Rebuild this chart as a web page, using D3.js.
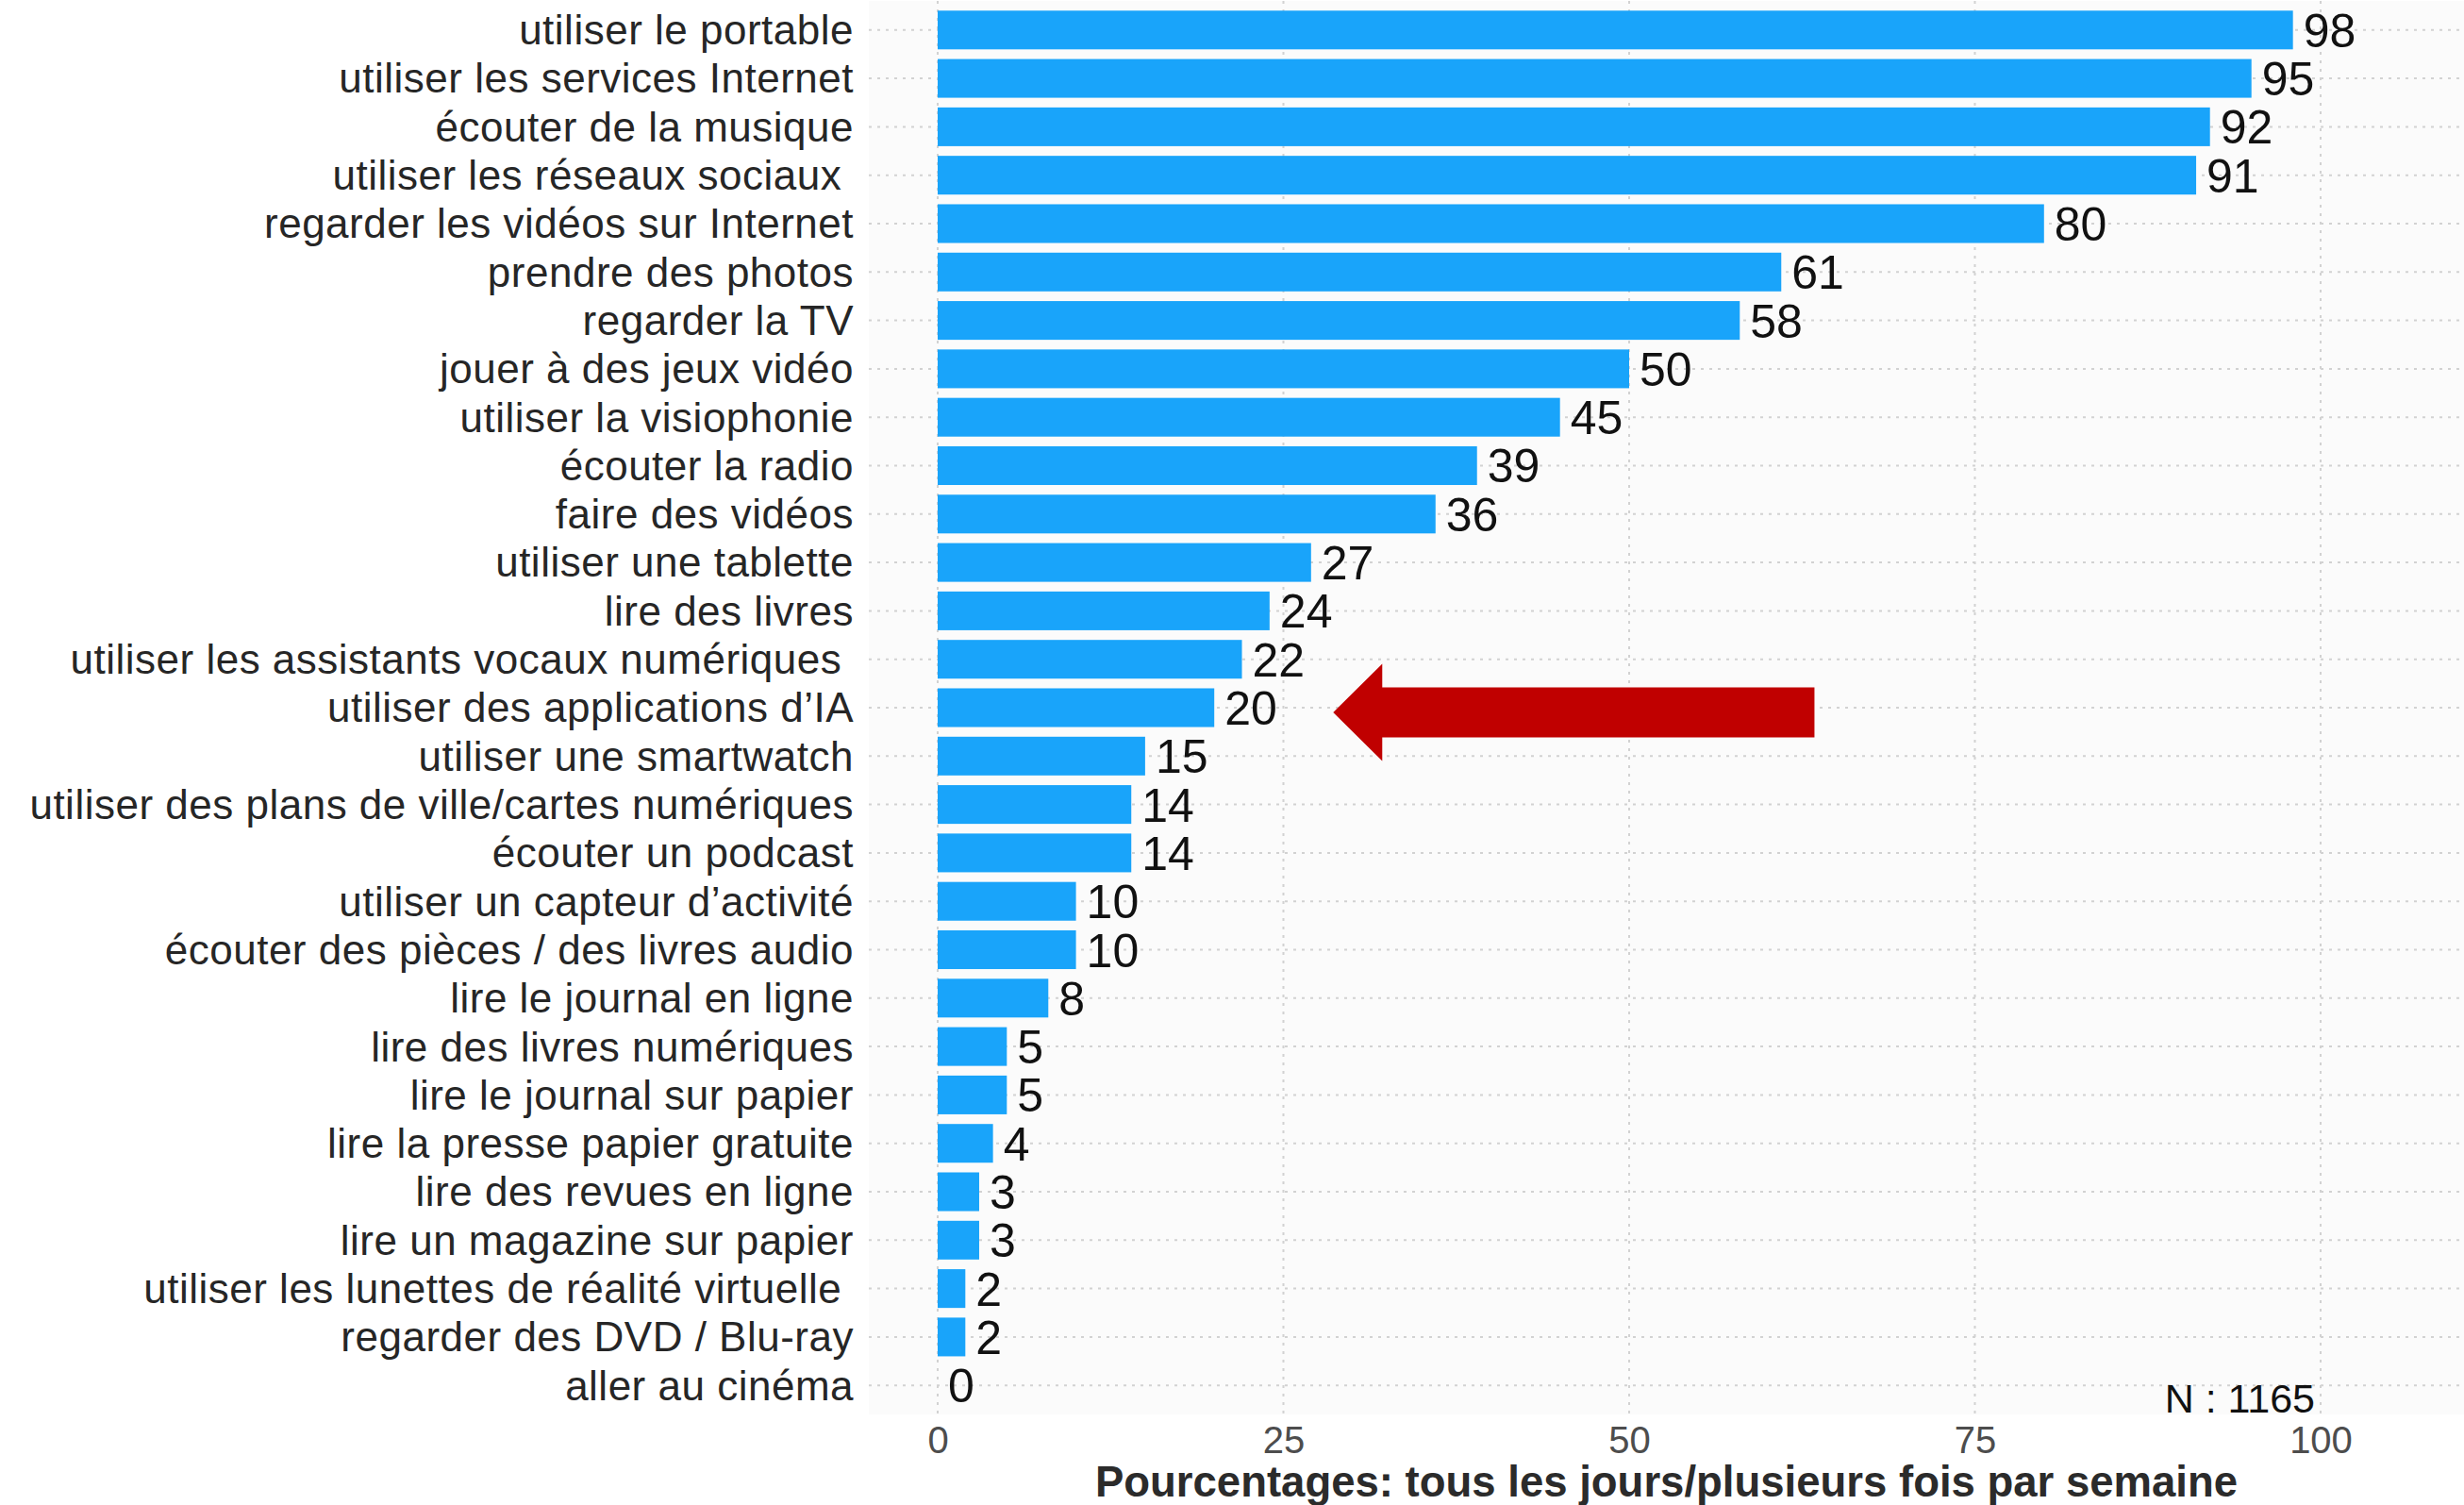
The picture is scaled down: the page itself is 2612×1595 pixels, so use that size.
<!DOCTYPE html>
<html lang="fr">
<head>
<meta charset="utf-8">
<title>Usages médias</title>
<script src="https://cdn.jsdelivr.net/npm/d3@7"></script>
<style>
  html, body { margin: 0; padding: 0; background: #ffffff; }
  svg { display: block; font-family: "Liberation Sans", Arial, Helvetica, sans-serif; }
</style>
</head>
<body>
<svg id="chart" width="2612" height="1595"></svg>
<script>
// Activities, top to bottom
const categories = [
  "utiliser le portable",
  "utiliser les services Internet",
  "écouter de la musique",
  "utiliser les réseaux sociaux ",
  "regarder les vidéos sur Internet",
  "prendre des photos",
  "regarder la TV",
  "jouer à des jeux vidéo",
  "utiliser la visiophonie",
  "écouter la radio",
  "faire des vidéos",
  "utiliser une tablette",
  "lire des livres",
  "utiliser les assistants vocaux numériques ",
  "utiliser des applications d’IA",
  "utiliser une smartwatch",
  "utiliser des plans de ville/cartes numériques",
  "écouter un podcast",
  "utiliser un capteur d’activité",
  "écouter des pièces / des livres audio",
  "lire le journal en ligne",
  "lire des livres numériques",
  "lire le journal sur papier",
  "lire la presse papier gratuite",
  "lire des revues en ligne",
  "lire un magazine sur papier",
  "utiliser les lunettes de réalité virtuelle ",
  "regarder des DVD / Blu-ray",
  "aller au cinéma"
];

// Share (%) doing it every day / several times a week
const values = [98, 95, 92, 91, 80, 61, 58, 50, 45, 39, 36, 27, 24, 22, 20, 15, 14, 14, 10, 10, 8, 5, 5, 4, 3, 3, 2, 2, 0];

const xTicks = [0, 25, 50, 75, 100];
const xTitle = "Pourcentages: tous les jours/plusieurs fois par semaine";
const sampleNote = "N : 1165";

// Highlighted activity and the arrow span (in % units)
const highlighted = "utiliser des applications d’IA";
const arrowSpan = [63.4, 28.6];

const data = categories.map((c, i) => ({ category: c, value: values[i] }));

const W = 2612, H = 1595;
const panel = { left: 921, right: 2612, top: 1, bottom: 1499 };

const svg = d3.select("#chart");

const x = d3.scaleLinear().domain([0, 100]).range([994, 2460]);
const y = d3.scaleBand()
  .domain(categories)
  .range([panel.top, panel.bottom])
  .paddingInner(0.2)
  .paddingOuter(0.2);

// Panel background
svg.append("rect")
  .attr("x", panel.left).attr("y", panel.top)
  .attr("width", panel.right - panel.left)
  .attr("height", panel.bottom - panel.top)
  .attr("fill", "#fbfbfb");

// Dotted grid
const grid = svg.append("g")
  .attr("stroke", "#d2d2d2")
  .attr("stroke-width", 2)
  .attr("stroke-dasharray", "3,6")
  .attr("fill", "none");

grid.selectAll("line.h")
  .data(categories)
  .join("line")
  .attr("class", "h")
  .attr("x1", panel.left).attr("x2", panel.right)
  .attr("y1", d => y(d) + y.bandwidth() / 2)
  .attr("y2", d => y(d) + y.bandwidth() / 2);

grid.selectAll("line.v")
  .data(xTicks)
  .join("line")
  .attr("class", "v")
  .attr("x1", d => x(d)).attr("x2", d => x(d))
  .attr("y1", panel.top).attr("y2", panel.bottom);

// Bars
svg.append("g")
  .selectAll("rect")
  .data(data)
  .join("rect")
  .attr("x", x(0))
  .attr("y", d => y(d.category))
  .attr("width", d => x(d.value) - x(0))
  .attr("height", y.bandwidth())
  .attr("fill", "#19a4fa");

// Value labels
svg.append("g")
  .selectAll("text")
  .data(data)
  .join("text")
  .attr("x", d => x(d.value) + 11)
  .attr("y", d => y(d.category) + y.bandwidth() / 2)
  .attr("dy", "0.36em")
  .attr("font-size", 50)
  .attr("fill", "#111111")
  .text(d => d3.format("d")(d.value));

// Category labels
svg.append("g")
  .selectAll("text")
  .data(categories)
  .join("text")
  .attr("x", panel.left - 16)
  .attr("y", d => y(d) + y.bandwidth() / 2)
  .attr("dy", "0.35em")
  .attr("text-anchor", "end")
  .attr("xml:space", "preserve")
  .style("white-space", "pre")
  .attr("font-size", 44)
  .attr("letter-spacing", 0.5)
  .attr("fill", "#262626")
  .text(d => d);

// X axis
const xAxis = svg.append("g")
  .attr("transform", `translate(0,${panel.bottom})`)
  .call(d3.axisBottom(x).tickValues(xTicks).tickSize(0).tickPadding(13));
xAxis.select(".domain").remove();
xAxis.selectAll("text")
  .attr("font-size", 40)
  .attr("fill", "#4d4d4d")
  .attr("font-family", "'Liberation Sans', Arial, sans-serif");

// Axis title
svg.append("text")
  .attr("x", (panel.left + panel.right) / 2)
  .attr("y", 1586)
  .attr("text-anchor", "middle")
  .attr("font-size", 45.5)
  .attr("font-weight", "bold")
  .attr("fill", "#2b2b2b")
  .text(xTitle);

// Sample size note
svg.append("text")
  .attr("x", x(100) - 6)
  .attr("y", panel.bottom - 2)
  .attr("text-anchor", "end")
  .attr("font-size", 43)
  .attr("fill", "#111111")
  .attr("xml:space", "preserve")
  .style("white-space", "pre")
  .text(sampleNote);

// Arrow pointing at the highlighted activity
const cy = y(highlighted) + y.bandwidth() / 2 + 5;
const tipX = x(arrowSpan[1]);
const tailX = x(arrowSpan[0]);
const headLen = 52, headHalf = 51.5, shaftHalf = 26.5;
const arrowPath = d3.path();
arrowPath.moveTo(tipX, cy);
arrowPath.lineTo(tipX + headLen, cy - headHalf);
arrowPath.lineTo(tipX + headLen, cy - shaftHalf);
arrowPath.lineTo(tailX, cy - shaftHalf);
arrowPath.lineTo(tailX, cy + shaftHalf);
arrowPath.lineTo(tipX + headLen, cy + shaftHalf);
arrowPath.lineTo(tipX + headLen, cy + headHalf);
arrowPath.closePath();
svg.append("path")
  .attr("d", arrowPath.toString())
  .attr("fill", "#c00000");
</script>
</body>
</html>
